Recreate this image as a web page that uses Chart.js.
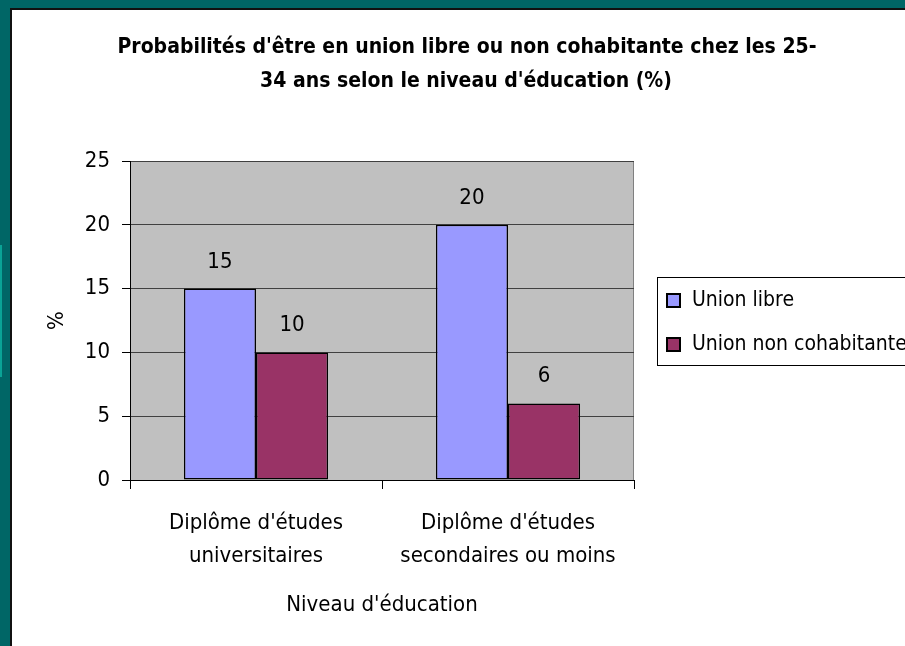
<!DOCTYPE html>
<html>
<head>
<meta charset="utf-8">
<script src="https://cdn.jsdelivr.net/npm/chart.js@4.4.1/dist/chart.umd.min.js"></script>
<style>
  html, body { margin: 0; padding: 0; width: 905px; height: 646px; overflow: hidden; background: #fff; }
  .f { position: absolute; }
  #wrap { position: absolute; left: 0; top: 0; width: 905px; height: 646px; }
  canvas { position: absolute; left: 0; top: 0; }
</style>
</head>
<body>
<div class="f" style="left:0;top:0;width:905px;height:8px;background:#006666"></div>
<div class="f" style="left:0;top:0;width:10px;height:646px;background:#006666"></div>
<div class="f" style="left:0;top:245px;width:2px;height:132px;background:#0aa396"></div>
<div class="f" style="left:10px;top:8px;width:895px;height:2px;background:#111"></div>
<div class="f" style="left:10px;top:8px;width:2px;height:638px;background:#111"></div>
<div id="wrap"><canvas id="c" width="905" height="646"></canvas></div>
<script>
const titleLines = ["Probabilités d'être en union libre ou non cohabitante chez les 25-", "34 ans selon le niveau d'éducation (%)"];
const categories = [["Diplôme d'études", "universitaires"], ["Diplôme d'études", "secondaires ou moins"]];
const seriesNames = ["Union libre", "Union non cohabitante"];
const unionLibre = [15, 20];
const unionNonCohabitante = [10, 6];
const yTicks = [0, 5, 10, 15, 20, 25];
const xTitle = "Niveau d'éducation";
const yTitle = "%";

const FONT = "'Liberation Sans Narrow', 'Arial Narrow', 'DejaVu Sans Condensed', sans-serif";
const colors = ["#9999FF", "#993366"];

const bgPlugin = {
  id: 'plotBg',
  beforeDraw(chart) {
    const {ctx, chartArea: a} = chart;
    ctx.save();
    ctx.fillStyle = '#C0C0C0';
    ctx.fillRect(a.left, a.top, a.right - a.left, a.bottom - a.top);
    ctx.strokeStyle = '#808080';
    ctx.lineWidth = 1;
    ctx.beginPath();
    ctx.moveTo(Math.round(a.right) - 0.5, a.top);
    ctx.lineTo(Math.round(a.right) - 0.5, a.bottom);
    ctx.stroke();
    ctx.restore();
  }
};

const titlePlugin = {
  id: 'customTitle',
  afterDraw(chart) {
    const ctx = chart.ctx;
    ctx.save();
    ctx.fillStyle = '#000';
    ctx.font = "bold 21px " + FONT;
    ctx.textAlign = 'center';
    ctx.textBaseline = 'alphabetic';
    ctx.fillText(titleLines[0], 467, 53);
    ctx.fillText(titleLines[1], 466, 87);
    ctx.restore();
  }
};

const labelPlugin = {
  id: 'barLabels',
  afterDatasetsDraw(chart) {
    const ctx = chart.ctx;
    ctx.save();
    ctx.fillStyle = '#000';
    ctx.font = "22px " + FONT;
    ctx.textAlign = 'center';
    ctx.textBaseline = 'alphabetic';
    chart.data.datasets.forEach((ds, i) => {
      chart.getDatasetMeta(i).data.forEach((el, j) => {
        ctx.fillText(String(ds.data[j]), el.x, el.y - 21);
      });
    });
    ctx.restore();
  }
};

const legendPlugin = {
  id: 'boxLegend',
  afterDraw(chart) {
    const ctx = chart.ctx;
    ctx.save();
    ctx.fillStyle = '#fff';
    ctx.fillRect(657, 277, 260, 88);
    ctx.strokeStyle = '#000';
    ctx.lineWidth = 1;
    ctx.strokeRect(657.5, 277.5, 260, 88);
    ctx.font = "21px " + FONT;
    ctx.textBaseline = 'middle';
    ctx.textAlign = 'left';
    const ys = [300, 344];
    chart.data.datasets.forEach((ds, i) => {
      const y = ys[i];
      ctx.fillStyle = ds.backgroundColor;
      ctx.fillRect(667, y - 6, 13, 13);
      ctx.strokeStyle = '#000';
      ctx.lineWidth = 2;
      ctx.strokeRect(667, y - 6, 13, 13);
      ctx.fillStyle = '#000';
      ctx.fillText(ds.label, 692, y + 1);
    });
    ctx.restore();
  }
};

new Chart(document.getElementById('c'), {
  type: 'bar',
  data: {
    labels: categories,
    datasets: [
      { label: seriesNames[0], data: unionLibre, backgroundColor: colors[0], borderColor: '#000', borderWidth: 1.5, borderSkipped: false },
      { label: seriesNames[1], data: unionNonCohabitante, backgroundColor: colors[1], borderColor: '#000', borderWidth: 1.5, borderSkipped: false }
    ]
  },
  options: {
    responsive: false,
    animation: false,
    events: [],
    layout: { padding: { left: 0, right: 271, top: 161, bottom: 0 } },
    datasets: { bar: { categoryPercentage: 0.572, barPercentage: 1.0 } },
    plugins: { legend: { display: false }, title: { display: false }, tooltip: { enabled: false } },
    scales: {
      x: {
        offset: true,
        grid: { display: true, drawOnChartArea: false, drawTicks: true, tickLength: 9, color: '#000', offset: true },
        border: { display: true, color: '#000', width: 1 },
        ticks: { color: '#000', font: { family: FONT, size: 22, lineHeight: 1.5 }, padding: 18, maxRotation: 0, autoSkip: false },
        title: { display: true, text: xTitle, color: '#000', font: { family: FONT, size: 22 }, padding: { top: 0, bottom: 28 } },
        afterFit(scale) { scale.height = 166; }
      },
      y: {
        min: 0, max: 25,
        afterBuildTicks(scale) { scale.ticks = yTicks.map(v => ({ value: v })); },
        grid: { color: '#404040', tickColor: '#000', tickLength: 8, lineWidth: 1 },
        border: { display: true, color: '#000', width: 1 },
        ticks: { color: '#000', font: { family: FONT, size: 22 }, padding: 12 },
        title: { display: true, text: yTitle, color: '#000', font: { family: FONT, size: 22 }, padding: { top: 44, bottom: 0 } },
        afterFit(scale) { scale.width = 130; }
      }
    }
  },
  plugins: [bgPlugin, labelPlugin, legendPlugin, titlePlugin]
});
</script>
</body>
</html>
